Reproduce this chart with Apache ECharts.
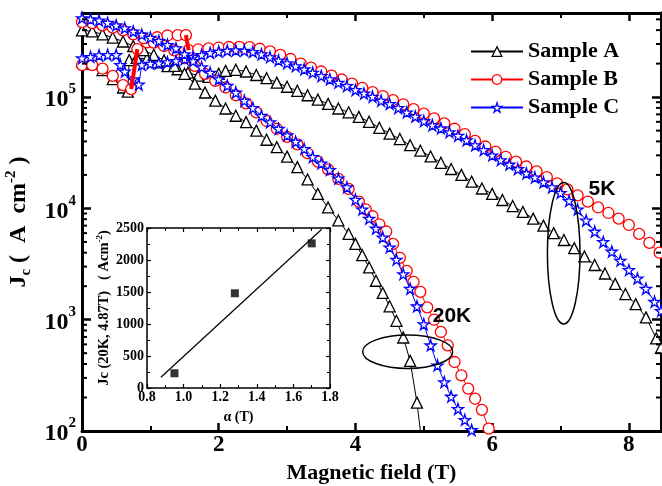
<!DOCTYPE html>
<html><head><meta charset="utf-8">
<script src="https://cdn.jsdelivr.net/npm/echarts@6/dist/echarts.min.js"></script>
<style>html,body{margin:0;padding:0;background:#fff}#c{width:662px;height:486px}</style>
</head><body><div id="c"></div>
<script>
// ---------- axis ranges / ticks ----------
const XMAX = 8.47, YMIN = 100, YMAX = 570000;
const yMajorTicks = [100, 1000, 10000, 100000];
const yMinorTicks = [200,300,400,500,600,700,800,900,2000,3000,4000,5000,6000,7000,8000,9000,
  20000,30000,40000,50000,60000,70000,80000,90000,200000,300000,400000,500000];

// ---------- Sample A (black triangles) ----------
const ax5 = [0,0.15,0.3,0.45,0.6,0.67,0.69,0.8,0.95,1.1,1.25,1.4,1.55,1.7,1.85,2.0,2.1,2.25,2.4,2.55,2.7,2.85,3.0,3.15,3.3,3.45,3.6,3.75,3.9,4.05,4.2,4.35,4.5,4.65,4.8,4.95,5.1,5.25,5.4,5.55,5.7,5.85,6.0,6.15,6.3,6.45,6.6,6.75,6.9,7.05,7.2,7.35,7.5,7.65,7.8,7.95,8.1,8.25,8.4,8.47];
const ay5 = [2.1e5,2.0e5,1.75e5,1.45e5,1.22e5,1.12e5,2.15e5,2.25e5,2.2e5,2.05e5,1.9e5,1.78e5,1.66e5,1.56e5,1.52e5,1.62e5,1.72e5,1.76e5,1.7e5,1.58e5,1.48e5,1.35e5,1.24e5,1.14e5,1.04e5,9.5e4,8.7e4,7.9e4,7.3e4,6.65e4,6.0e4,5.3e4,4.7e4,4.2e4,3.7e4,3.3e4,2.93e4,2.57e4,2.26e4,2.0e4,1.74e4,1.51e4,1.35e4,1.19e4,1.05e4,9.3e3,8.1e3,7.0e3,6.0e3,5.2e3,4.4e3,3.7e3,3.1e3,2.6e3,2.1e3,1.7e3,1.38e3,1.05e3,680,560];
const ax20 = [0,0.15,0.3,0.45,0.6,0.75,0.9,1.05,1.2,1.35,1.5,1.65,1.8,1.95,2.1,2.25,2.4,2.55,2.7,2.85,3.0,3.15,3.3,3.45,3.6,3.75,3.9,4.0,4.1,4.2,4.3,4.4,4.5,4.6,4.7,4.8,4.9,4.97];
const ay20 = [3.98e5,3.89e5,3.67e5,3.43e5,3.16e5,2.88e5,2.64e5,2.4e5,2.14e5,1.91e5,1.62e5,1.32e5,1.1e5,9.3e4,7.9e4,6.8e4,5.96e4,5.0e4,4.14e4,3.55e4,2.92e4,2.35e4,1.82e4,1.35e4,1.02e4,7.8e3,5.9e3,4.8e3,3.8e3,2.95e3,2.24e3,1.74e3,1.32e3,977,692,427,180,80];

// ---------- Sample B (red circles) ----------
const bx5 = [0,0.15,0.3,0.45,0.6,0.72,0.81,0.95,1.1,1.25,1.4,1.52,1.56,1.7,1.85,2.0,2.15,2.3,2.45,2.6,2.75,2.9,3.05,3.2,3.35,3.5,3.65,3.8,3.95,4.1,4.25,4.4,4.55,4.7,4.85,5.0,5.15,5.3,5.45,5.6,5.75,5.9,6.05,6.2,6.35,6.5,6.65,6.8,6.95,7.1,7.25,7.4,7.55,7.7,7.85,8.0,8.15,8.3,8.45];
const by5 = [1.94e5,1.94e5,1.8e5,1.55e5,1.28e5,1.18e5,2.7e5,3.1e5,3.45e5,3.58e5,3.6e5,3.6e5,2.64e5,2.68e5,2.74e5,2.79e5,2.82e5,2.83e5,2.81e5,2.72e5,2.58e5,2.4e5,2.2e5,2.0e5,1.84e5,1.7e5,1.56e5,1.44e5,1.32e5,1.21e5,1.11e5,1.02e5,9.4e4,8.6e4,7.8e4,7.1e4,6.45e4,5.8e4,5.2e4,4.65e4,4.05e4,3.6e4,3.24e4,2.91e4,2.63e4,2.38e4,2.15e4,1.91e4,1.68e4,1.48e4,1.31e4,1.15e4,1.02e4,9.1e3,8.1e3,7.1e3,5.9e3,4.9e3,4.0e3];
const bx20 = [0,0.15,0.3,0.45,0.6,0.75,0.9,1.05,1.2,1.35,1.5,1.65,1.8,1.95,2.1,2.25,2.4,2.55,2.7,2.85,3.0,3.15,3.3,3.45,3.6,3.75,3.9,4.05,4.15,4.25,4.35,4.45,4.55,4.65,4.75,4.85,4.95,5.05,5.15,5.25,5.35,5.45,5.55,5.65,5.75,5.85,5.95];
const by20 = [4.72e5,4.62e5,4.42e5,4.22e5,3.98e5,3.67e5,3.39e5,3.09e5,2.88e5,2.63e5,2.24e5,1.91e5,1.62e5,1.40e5,1.22e5,1.04e5,8.8e4,7.3e4,6.1e4,5.2e4,4.4e4,3.76e4,3.13e4,2.63e4,2.24e4,1.84e4,1.5e4,1.15e4,9.8e3,8.5e3,7.2e3,6.2e3,4.8e3,3.6e3,2.75e3,2.19e3,1.78e3,1.29e3,1.0e3,776,589,417,316,240,195,155,105];
// flux-jump segments of sample B (thick red)
const bJump1x = [0.72,0.81], bJump1y = [1.18e5,2.7e5];
const bJump2x = [1.52,1.56], bJump2y = [3.6e5,2.64e5];

// ---------- Sample C (blue stars) ----------
const cx5 = [0,0.125,0.25,0.375,0.5,0.56,0.625,0.75,0.83,0.875,1.0,1.125,1.25,1.375,1.5,1.625,1.75,1.875,2.0,2.125,2.25,2.375,2.5,2.625,2.75,2.875,3.0,3.125,3.25,3.375,3.5,3.625,3.75,3.875,4.0,4.125,4.25,4.375,4.5,4.625,4.75,4.875,5.0,5.125,5.25,5.375,5.5,5.625,5.75,5.875,6.0,6.125,6.25,6.375,6.5,6.625,6.75,6.875,7.0,7.125,7.25,7.375,7.5,7.625,7.75,7.875,8.0,8.125,8.25,8.375,8.47];
const cy5 = [2.24e5,2.3e5,2.38e5,2.4e5,2.4e5,1.95e5,1.7e5,1.45e5,1.3e5,1.95e5,2.0e5,2.02e5,2.06e5,2.12e5,2.2e5,2.3e5,2.4e5,2.5e5,2.57e5,2.62e5,2.64e5,2.62e5,2.55e5,2.43e5,2.29e5,2.14e5,2.02e5,1.9e5,1.78e5,1.66e5,1.55e5,1.45e5,1.35e5,1.26e5,1.16e5,1.08e5,1.01e5,9.3e4,8.7e4,8.0e4,7.3e4,6.7e4,6.1e4,5.6e4,5.25e4,4.85e4,4.5e4,4.1e4,3.7e4,3.35e4,3.0e4,2.72e4,2.48e4,2.26e4,2.07e4,1.9e4,1.72e4,1.55e4,1.38e4,1.17e4,9.8e3,7.8e3,6.2e3,5.0e3,4.1e3,3.4e3,2.8e3,2.35e3,1.9e3,1.45e3,1.2e3];
const cx20 = [0,0.125,0.25,0.375,0.5,0.625,0.75,0.875,1.0,1.125,1.25,1.375,1.5,1.625,1.75,1.875,2.0,2.125,2.25,2.375,2.5,2.625,2.75,2.875,3.0,3.125,3.25,3.375,3.5,3.625,3.75,3.875,4.0,4.1,4.2,4.3,4.4,4.5,4.6,4.7,4.8,4.9,5.0,5.1,5.2,5.3,5.4,5.5,5.6,5.7];
const cy20 = [5.13e5,5.01e5,4.9e5,4.66e5,4.42e5,4.17e5,3.89e5,3.65e5,3.43e5,3.2e5,2.95e5,2.75e5,2.43e5,2.11e5,1.86e5,1.66e5,1.45e5,1.27e5,1.1e5,9.3e4,8.0e4,6.8e4,5.96e4,5.2e4,4.54e4,3.98e4,3.43e4,2.9e4,2.54e4,2.22e4,1.86e4,1.55e4,1.2e4,9.8e3,8.1e3,6.6e3,5.5e3,4.47e3,3.47e3,2.57e3,1.9e3,1.32e3,912,589,389,275,204,158,126,102];

// ---------- inset ----------
const alphaT = [0.95, 1.28, 1.70];
const jcInset = [230, 1480, 2260];
const fitX = [0.876, 1.755], fitY = [167, 2480];

const SERIF = '"Liberation Serif","Times New Roman",serif';
const SANS = '"Liberation Sans",Arial,sans-serif';
const STAR = 'path://M50,0 L61,35 L98,35 L68,57 L79,91 L50,70 L21,91 L32,57 L2,35 L39,35 Z';
const zip = (xs, ys) => xs.slice(0, Math.min(xs.length, ys.length)).map((x, i) => [x, ys[i]]);

function curve(name, xs, ys, color, symbol, size, z) {
  return {
    type: 'line', name, data: zip(xs, ys), xAxisIndex: 0, yAxisIndex: 0,
    symbol, symbolSize: size, showSymbol: true, showAllSymbol: true, clip: true,
    lineStyle: { color, width: 1 },
    itemStyle: { color: '#ffffff', borderColor: color, borderWidth: 1.3 },
    emphasis: { disabled: true }, z
  };
}
function jump(xs, ys) {
  return { type: 'line', name: 'jump', data: zip(xs, ys), xAxisIndex: 0, yAxisIndex: 0,
    symbol: 'none', lineStyle: { color: '#ff0000', width: 4 }, emphasis: { disabled: true }, z: 5 };
}

const tickLabelRich = {
  b: { fontFamily: SERIF, fontWeight: 'bold', fontSize: 24, color: '#000', lineHeight: 30, verticalAlign: 'bottom' },
  s: { fontFamily: SERIF, fontWeight: 'bold', fontSize: 15, color: '#000', lineHeight: 15, verticalAlign: 'top' }
};

const chart = echarts.init(document.getElementById('c'), null, { renderer: 'canvas' });
const option = {
  animation: false,
  backgroundColor: '#fff',
  grid: [
    { left: 82, top: 13, width: 579, height: 418, outerBoundsMode: 'none' },
    { left: 147, top: 228, width: 183, height: 160, outerBoundsMode: 'none' }
  ],
  legend: {
    data: ['Sample A', 'Sample B', 'Sample C'], selectedMode: false,
    orient: 'vertical', left: 470, top: 40, itemWidth: 52, itemHeight: 12, itemGap: 5, padding: 0,
    itemStyle: { color: '#ffffff', borderWidth: 1.3 },
    textStyle: { fontFamily: SERIF, fontWeight: 'bold', fontSize: 22, color: '#000', lineHeight: 23 }
  },
  xAxis: [
    { gridIndex: 0, type: 'value', min: 0, max: XMAX, interval: 2, position: 'bottom',
      axisLine: { onZero: false, lineStyle: { color: '#000', width: 3 } },
      axisTick: { inside: true, length: 8, lineStyle: { color: '#000', width: 2.5 } },
      minorTick: { show: true, splitNumber: 2, length: 5, lineStyle: { color: '#000', width: 2 } },
      splitLine: { show: false },
      axisLabel: { color: '#000', fontFamily: SERIF, fontWeight: 'bold', fontSize: 23, margin: 3, showMaxLabel: false },
      name: 'Magnetic field (T)', nameLocation: 'middle', nameGap: 28,
      nameTextStyle: { color: '#000', fontFamily: SERIF, fontWeight: 'bold', fontSize: 22 } },
    { gridIndex: 0, type: 'value', min: 0, max: XMAX, interval: 2, position: 'top',
      axisLine: { onZero: false, lineStyle: { color: '#000', width: 3 } },
      axisTick: { inside: true, length: 8, lineStyle: { color: '#000', width: 2.5 } },
      minorTick: { show: true, splitNumber: 2, length: 5, lineStyle: { color: '#000', width: 2 } },
      splitLine: { show: false }, axisLabel: { show: false } },
    { gridIndex: 1, type: 'value', min: 0.8, max: 1.8, interval: 0.2, position: 'bottom',
      axisLine: { onZero: false, lineStyle: { color: '#000', width: 1.5 } },
      axisTick: { inside: true, length: 4, lineStyle: { color: '#000', width: 1.2 } },
      minorTick: { show: true, splitNumber: 2, length: 3, lineStyle: { color: '#000', width: 1 } },
      splitLine: { show: false },
      axisLabel: { color: '#000', fontFamily: SERIF, fontWeight: 'bold', fontSize: 14, margin: 2,
        formatter: v => v.toFixed(1) },
      name: 'α (T)', nameLocation: 'middle', nameGap: 22,
      nameTextStyle: { color: '#000', fontFamily: SERIF, fontWeight: 'bold', fontSize: 14 } },
    { gridIndex: 1, type: 'value', min: 0.8, max: 1.8, interval: 0.2, position: 'top',
      axisLine: { onZero: false, lineStyle: { color: '#000', width: 1.5 } },
      axisTick: { inside: true, length: 4, lineStyle: { color: '#000', width: 1.2 } },
      minorTick: { show: true, splitNumber: 2, length: 3, lineStyle: { color: '#000', width: 1 } },
      splitLine: { show: false }, axisLabel: { show: false } }
  ],
  yAxis: [
    { gridIndex: 0, type: 'log', logBase: 10, min: YMIN, max: YMAX, position: 'left',
      axisLine: { onZero: false, lineStyle: { color: '#000', width: 3 } },
      axisTick: { inside: true, length: 9, lineStyle: { color: '#000', width: 2.5 } },
      splitLine: { show: false },
      axisLabel: { margin: 6, showMaxLabel: false, rich: tickLabelRich,
        formatter: v => {
          const e = Math.round(Math.log10(v));
          return yMajorTicks.some(t => Math.abs(t - v) / t < 1e-6) ? '{b|10}{s|' + e + '}' : '';
        } },
      name: '{a|J}{b|c}{a| (  A  cm}{c|-2}{a| )}', nameLocation: 'middle', nameGap: 44,
      nameTextStyle: { rich: {
        a: { fontFamily: SERIF, fontWeight: 'bold', fontSize: 24, color: '#000', lineHeight: 30, verticalAlign: 'middle' },
        b: { fontFamily: SERIF, fontWeight: 'bold', fontSize: 15, color: '#000', lineHeight: 14, verticalAlign: 'bottom' },
        c: { fontFamily: SERIF, fontWeight: 'bold', fontSize: 15, color: '#000', lineHeight: 14, verticalAlign: 'top' } } } },
    { gridIndex: 0, type: 'log', logBase: 10, min: YMIN, max: YMAX, position: 'right',
      axisLine: { onZero: false, lineStyle: { color: '#000', width: 3 } },
      axisTick: { inside: true, length: 9, lineStyle: { color: '#000', width: 2.5 } },
      splitLine: { show: false }, axisLabel: { show: false } },
    { gridIndex: 1, type: 'value', min: 0, max: 2500, interval: 500, position: 'left',
      axisLine: { onZero: false, lineStyle: { color: '#000', width: 1.5 } },
      axisTick: { inside: true, length: 4, lineStyle: { color: '#000', width: 1.2 } },
      minorTick: { show: true, splitNumber: 2, length: 3, lineStyle: { color: '#000', width: 1 } },
      splitLine: { show: false },
      axisLabel: { color: '#000', fontFamily: SERIF, fontWeight: 'bold', fontSize: 14, margin: 3,
        formatter: v => String(v) },
      name: '{a|Jc (20K, 4.87T)   ( Acm}{c|-2}{a|)}', nameLocation: 'middle', nameGap: 34,
      nameTextStyle: { rich: {
        a: { fontFamily: SERIF, fontWeight: 'bold', fontSize: 14.5, color: '#000', lineHeight: 18, verticalAlign: 'middle' },
        c: { fontFamily: SERIF, fontWeight: 'bold', fontSize: 9, color: '#000', lineHeight: 9, verticalAlign: 'top' } } } },
    { gridIndex: 1, type: 'value', min: 0, max: 2500, interval: 500, position: 'right',
      axisLine: { onZero: false, lineStyle: { color: '#000', width: 1.5 } },
      axisTick: { inside: true, length: 4, lineStyle: { color: '#000', width: 1.2 } },
      minorTick: { show: true, splitNumber: 2, length: 3, lineStyle: { color: '#000', width: 1 } },
      splitLine: { show: false }, axisLabel: { show: false } }
  ],
  series: [
    { type: 'custom', name: 'minorY', xAxisIndex: 0, yAxisIndex: 0, silent: true, z: 10,
      data: yMinorTicks.map(v => [0, v]),
      renderItem: (params, api) => {
        const v = api.value(1);
        const pl = api.coord([0, v]), pr = api.coord([XMAX, v]);
        const st = { stroke: '#000', lineWidth: 2 };
        return { type: 'group', children: [
          { type: 'line', shape: { x1: pl[0], y1: pl[1], x2: pl[0] + 5, y2: pl[1] }, style: st },
          { type: 'line', shape: { x1: pr[0], y1: pr[1], x2: pr[0] - 5, y2: pr[1] }, style: st } ] };
      } },
    curve('Sample A', ax5, ay5, '#000000', 'triangle', 11, 2),
    curve('Sample A', ax20, ay20, '#000000', 'triangle', 11, 2),
    curve('Sample B', bx5, by5, '#ff0000', 'circle', 11, 3),
    curve('Sample B', bx20, by20, '#ff0000', 'circle', 11, 3),
    jump(bJump1x, bJump1y), jump(bJump2x, bJump2y),
    curve('Sample C', cx5, cy5, '#0000ff', STAR, 11, 4),
    curve('Sample C', cx20, cy20, '#0000ff', STAR, 11, 4),
    { type: 'line', name: 'fit', xAxisIndex: 2, yAxisIndex: 2, data: zip(fitX, fitY), symbol: 'none',
      lineStyle: { color: '#000', width: 1.2 }, emphasis: { disabled: true } },
    { type: 'scatter', name: 'inset', xAxisIndex: 2, yAxisIndex: 2, data: zip(alphaT, jcInset),
      symbol: 'rect', symbolSize: 8, itemStyle: { color: '#000' }, emphasis: { disabled: true } }
  ],
  graphic: [
    { type: 'ellipse', shape: { cx: 563.7, cy: 253.3, rx: 16.3, ry: 70.7 }, style: { fill: 'none', stroke: '#000', lineWidth: 1.5 }, z: 20 },
    { type: 'ellipse', shape: { cx: 407.7, cy: 351.7, rx: 45, ry: 16.7 }, style: { fill: 'none', stroke: '#000', lineWidth: 1.5 }, z: 20 },
    { type: 'text', x: 602, y: 189, style: { text: '5K', font: 'bold 21px ' + SANS, fill: '#000', align: 'center', verticalAlign: 'middle' }, z: 20 },
    { type: 'text', x: 452, y: 316, style: { text: '20K', font: 'bold 21px ' + SANS, fill: '#000', align: 'center', verticalAlign: 'middle' }, z: 20 }
  ]
};
chart.setOption(option);
</script>
</body></html>
